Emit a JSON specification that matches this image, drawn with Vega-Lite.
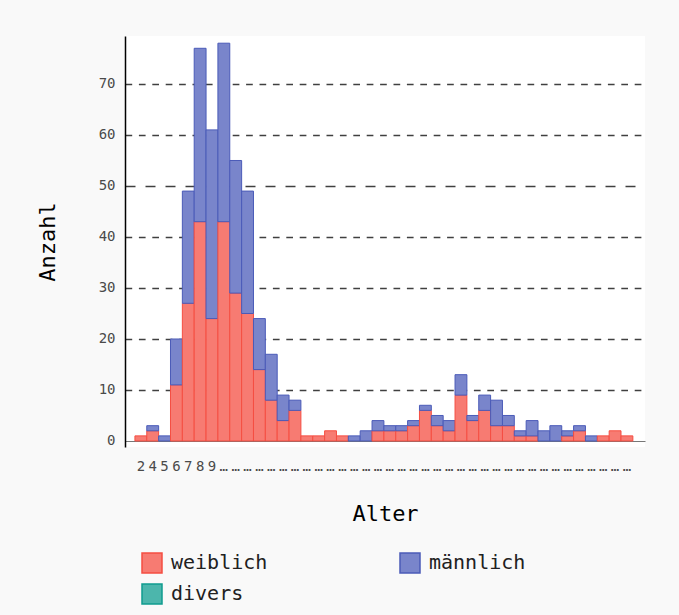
{
  "$schema": "https://vega.github.io/schema/vega-lite/v6.json",
  "width": 520,
  "height": 411,
  "autosize": {"type": "none"},
  "padding": {"left": 125, "top": 36, "right": 34, "bottom": 168},
  "background": "#f9f9f9",
  "config": {"view": {"stroke": null, "fill": "#ffffff"}, "font": "DejaVu Sans Mono"},
  "data": {"values": [
    {"Alter": 2, "Geschlecht": "weiblich", "Anzahl": 1},
    {"Alter": 4, "Geschlecht": "weiblich", "Anzahl": 2},
    {"Alter": 4, "Geschlecht": "männlich", "Anzahl": 1},
    {"Alter": 5, "Geschlecht": "männlich", "Anzahl": 1},
    {"Alter": 6, "Geschlecht": "weiblich", "Anzahl": 11},
    {"Alter": 6, "Geschlecht": "männlich", "Anzahl": 9},
    {"Alter": 7, "Geschlecht": "weiblich", "Anzahl": 27},
    {"Alter": 7, "Geschlecht": "männlich", "Anzahl": 22},
    {"Alter": 8, "Geschlecht": "weiblich", "Anzahl": 43},
    {"Alter": 8, "Geschlecht": "männlich", "Anzahl": 34},
    {"Alter": 9, "Geschlecht": "weiblich", "Anzahl": 24},
    {"Alter": 9, "Geschlecht": "männlich", "Anzahl": 37},
    {"Alter": 10, "Geschlecht": "weiblich", "Anzahl": 43},
    {"Alter": 10, "Geschlecht": "männlich", "Anzahl": 35},
    {"Alter": 11, "Geschlecht": "weiblich", "Anzahl": 29},
    {"Alter": 11, "Geschlecht": "männlich", "Anzahl": 26},
    {"Alter": 12, "Geschlecht": "weiblich", "Anzahl": 25},
    {"Alter": 12, "Geschlecht": "männlich", "Anzahl": 24},
    {"Alter": 13, "Geschlecht": "weiblich", "Anzahl": 14},
    {"Alter": 13, "Geschlecht": "männlich", "Anzahl": 10},
    {"Alter": 14, "Geschlecht": "weiblich", "Anzahl": 8},
    {"Alter": 14, "Geschlecht": "männlich", "Anzahl": 9},
    {"Alter": 15, "Geschlecht": "weiblich", "Anzahl": 4},
    {"Alter": 15, "Geschlecht": "männlich", "Anzahl": 5},
    {"Alter": 16, "Geschlecht": "weiblich", "Anzahl": 6},
    {"Alter": 16, "Geschlecht": "männlich", "Anzahl": 2},
    {"Alter": 17, "Geschlecht": "weiblich", "Anzahl": 1},
    {"Alter": 18, "Geschlecht": "weiblich", "Anzahl": 1},
    {"Alter": 19, "Geschlecht": "weiblich", "Anzahl": 2},
    {"Alter": 20, "Geschlecht": "weiblich", "Anzahl": 1},
    {"Alter": 21, "Geschlecht": "männlich", "Anzahl": 1},
    {"Alter": 22, "Geschlecht": "männlich", "Anzahl": 2},
    {"Alter": 23, "Geschlecht": "weiblich", "Anzahl": 2},
    {"Alter": 23, "Geschlecht": "männlich", "Anzahl": 2},
    {"Alter": 24, "Geschlecht": "weiblich", "Anzahl": 2},
    {"Alter": 24, "Geschlecht": "männlich", "Anzahl": 1},
    {"Alter": 25, "Geschlecht": "weiblich", "Anzahl": 2},
    {"Alter": 25, "Geschlecht": "männlich", "Anzahl": 1},
    {"Alter": 26, "Geschlecht": "weiblich", "Anzahl": 3},
    {"Alter": 26, "Geschlecht": "männlich", "Anzahl": 1},
    {"Alter": 27, "Geschlecht": "weiblich", "Anzahl": 6},
    {"Alter": 27, "Geschlecht": "männlich", "Anzahl": 1},
    {"Alter": 28, "Geschlecht": "weiblich", "Anzahl": 3},
    {"Alter": 28, "Geschlecht": "männlich", "Anzahl": 2},
    {"Alter": 29, "Geschlecht": "weiblich", "Anzahl": 2},
    {"Alter": 29, "Geschlecht": "männlich", "Anzahl": 2},
    {"Alter": 30, "Geschlecht": "weiblich", "Anzahl": 9},
    {"Alter": 30, "Geschlecht": "männlich", "Anzahl": 4},
    {"Alter": 31, "Geschlecht": "weiblich", "Anzahl": 4},
    {"Alter": 31, "Geschlecht": "männlich", "Anzahl": 1},
    {"Alter": 32, "Geschlecht": "weiblich", "Anzahl": 6},
    {"Alter": 32, "Geschlecht": "männlich", "Anzahl": 3},
    {"Alter": 33, "Geschlecht": "weiblich", "Anzahl": 3},
    {"Alter": 33, "Geschlecht": "männlich", "Anzahl": 5},
    {"Alter": 34, "Geschlecht": "weiblich", "Anzahl": 3},
    {"Alter": 34, "Geschlecht": "männlich", "Anzahl": 2},
    {"Alter": 35, "Geschlecht": "weiblich", "Anzahl": 1},
    {"Alter": 35, "Geschlecht": "männlich", "Anzahl": 1},
    {"Alter": 36, "Geschlecht": "weiblich", "Anzahl": 1},
    {"Alter": 36, "Geschlecht": "männlich", "Anzahl": 3},
    {"Alter": 37, "Geschlecht": "männlich", "Anzahl": 2},
    {"Alter": 38, "Geschlecht": "männlich", "Anzahl": 3},
    {"Alter": 39, "Geschlecht": "weiblich", "Anzahl": 1},
    {"Alter": 39, "Geschlecht": "männlich", "Anzahl": 1},
    {"Alter": 40, "Geschlecht": "weiblich", "Anzahl": 2},
    {"Alter": 40, "Geschlecht": "männlich", "Anzahl": 1},
    {"Alter": 41, "Geschlecht": "männlich", "Anzahl": 1},
    {"Alter": 42, "Geschlecht": "weiblich", "Anzahl": 1},
    {"Alter": 43, "Geschlecht": "weiblich", "Anzahl": 2},
    {"Alter": 44, "Geschlecht": "weiblich", "Anzahl": 1}
  ]},
  "mark": {"type": "bar", "strokeWidth": 1},
  "encoding": {
    "x": {
      "field": "Alter", "type": "ordinal", "sort": "ascending",
      "scale": {"paddingInner": 0, "paddingOuter": 0.93, "align": 0.45},
      "axis": {
        "title": "Alter", "labelAngle": 0, "labelLimit": 12, "labelOverlap": false,
        "ticks": false, "tickSize": 0, "labelPadding": 18, "offset": -6,
        "domainColor": "#777777", "domainWidth": 1, "labelFontSize": 14, "labelColor": "#4a4a4a",
        "titleFontSize": 22, "titleFontWeight": "normal", "titleColor": "#000000",
        "titleBaseline": "alphabetic", "titleY": 79, "grid": false
      }
    },
    "y": {
      "field": "Anzahl", "type": "quantitative", "stack": "zero",
      "scale": {"domain": [-1.18, 79.41], "nice": false, "zero": false},
      "axis": {
        "title": "Anzahl", "values": [0, 10, 20, 30, 40, 50, 60, 70],
        "ticks": false, "labelPadding": 10, "labelFontSize": 14, "labelColor": "#4a4a4a",
        "domainColor": "#000000", "domainWidth": 1.5,
        "grid": true, "gridColor": "#000000", "gridWidth": 1.5,
        "gridOpacity": {"condition": {"test": "datum.value === 0", "value": 0}, "value": 0.75},
        "gridDash": {"condition": {"test": "datum.value === 50", "value": [10, 10]}, "value": [6.7, 6.7]},
        "titleFontSize": 22, "titleFontWeight": "normal", "titleColor": "#000000",
        "titleX": -71, "titleBaseline": "alphabetic"
      }
    },
    "color": {
      "field": "Geschlecht", "type": "nominal",
      "sort": ["weiblich", "männlich", "divers"],
      "scale": {"domain": ["weiblich", "männlich", "divers"], "range": ["#F77B72", "#7985CB", "#4CB6AC"]},
      "legend": {
        "orient": "none", "direction": "horizontal", "legendX": 16, "legendY": 516, "columns": 2, "columnPadding": 129,
        "rowPadding": 5, "title": null, "symbolType": "square", "symbolSize": 400,
        "symbolStrokeWidth": 1.5, "labelFontSize": 20, "labelColor": "#212121", "labelOffset": 8,
        "padding": 0
      }
    },
    "stroke": {
      "field": "Geschlecht", "type": "nominal",
      "sort": ["weiblich", "männlich", "divers"],
      "scale": {"domain": ["weiblich", "männlich", "divers"], "range": ["#F54E42", "#4B5BB8", "#0F9C8F"]}
    }
  }
}
